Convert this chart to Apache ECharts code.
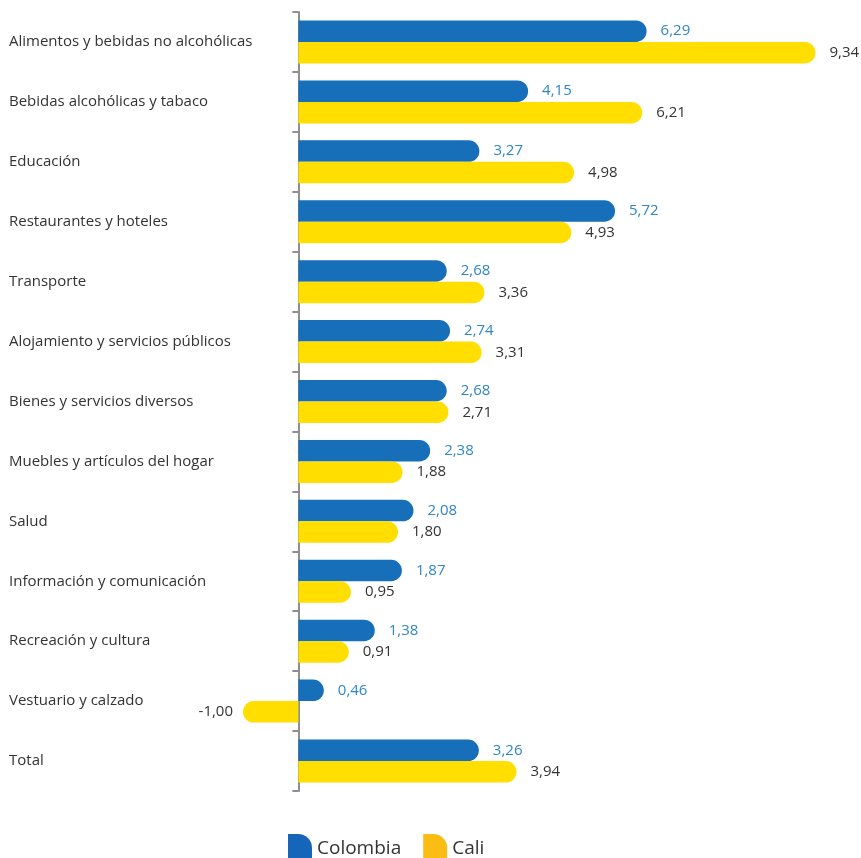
<!DOCTYPE html>
<html>
<head>
<meta charset="utf-8">
<script src="https://cdn.jsdelivr.net/npm/echarts@6/dist/echarts.min.js"></script>
<style>
html,body{margin:0;padding:0;background:#fff;}
#chart{width:861px;height:858px;}
</style>
</head>
<body>
<div id="chart"></div>
<script>
var categories = [
  'Alimentos y bebidas no alcohólicas',
  'Bebidas alcohólicas y tabaco',
  'Educación',
  'Restaurantes y hoteles',
  'Transporte',
  'Alojamiento y servicios públicos',
  'Bienes y servicios diversos',
  'Muebles y artículos del hogar',
  'Salud',
  'Información y comunicación',
  'Recreación y cultura',
  'Vestuario y calzado',
  'Total'
];
var colombia = [6.29, 4.15, 3.27, 5.72, 2.68, 2.74, 2.68, 2.38, 2.08, 1.87, 1.38, 0.46, 3.26];
var cali = [9.34, 6.21, 4.98, 4.93, 3.36, 3.31, 2.71, 1.88, 1.80, 0.95, 0.91, -1.00, 3.94];

var R = 11;
function toItems(arr) {
  return arr.map(function (v) {
    if (v < 0) {
      return { value: v, itemStyle: { borderRadius: [R, 0, 0, R] }, label: { position: 'left', distance: 10 } };
    }
    return v;
  });
}
function fmt(p) { return p.value.toFixed(2).replace('.', ','); }

var chart = echarts.init(document.getElementById('chart'));
chart.setOption({
  animation: false,
  textStyle: { fontFamily: 'Open Sans' },
  grid: { left: 243, right: 9, top: 12, bottom: 67, containLabel: false, outerBoundsMode: 'none' },
  xAxis: {
    type: 'value', min: -1, max: 10, show: false
  },
  yAxis: {
    type: 'category',
    data: categories,
    inverse: true,
    axisLine: { show: true, onZero: true, lineStyle: { color: '#8f8f8f', width: 2 } },
    axisTick: { show: true, length: 6, lineStyle: { color: '#8f8f8f', width: 2 } },
    axisLabel: { align: 'left', margin: 234, color: '#333', fontSize: 15, fontFamily: 'Open Sans' }
  },
  legend: {
    left: 283, top: 829,
    itemWidth: 24, itemHeight: 30, itemGap: 22,
    textStyle: { fontSize: 19, color: '#333', fontFamily: 'Open Sans' },
    data: [
      { name: 'Colombia', icon: 'path://M0,0 L10,0 A14,14 0 0 1 24,14 L24,30 L0,30 Z', itemStyle: { color: '#1565b8' } },
      { name: 'Cali', icon: 'path://M0,0 L10,0 A14,14 0 0 1 24,14 L24,30 L0,30 Z', itemStyle: { color: '#fbbd14' } }
    ]
  },
  series: [
    {
      name: 'Colombia', type: 'bar', data: toItems(colombia),
      barWidth: 21.5, barGap: '0%',
      itemStyle: { color: '#166fb8', borderRadius: [0, R, R, 0] },
      label: { show: true, position: 'right', distance: 14, color: '#2f86c8', fontSize: 15, fontFamily: 'Open Sans', formatter: fmt }
    },
    {
      name: 'Cali', type: 'bar', data: toItems(cali),
      barWidth: 21.5, barGap: '0%',
      itemStyle: { color: '#ffde00', borderRadius: [0, R, R, 0] },
      label: { show: true, position: 'right', distance: 14, color: '#333', fontSize: 15, fontFamily: 'Open Sans', formatter: fmt }
    }
  ]
});
</script>
</body>
</html>
